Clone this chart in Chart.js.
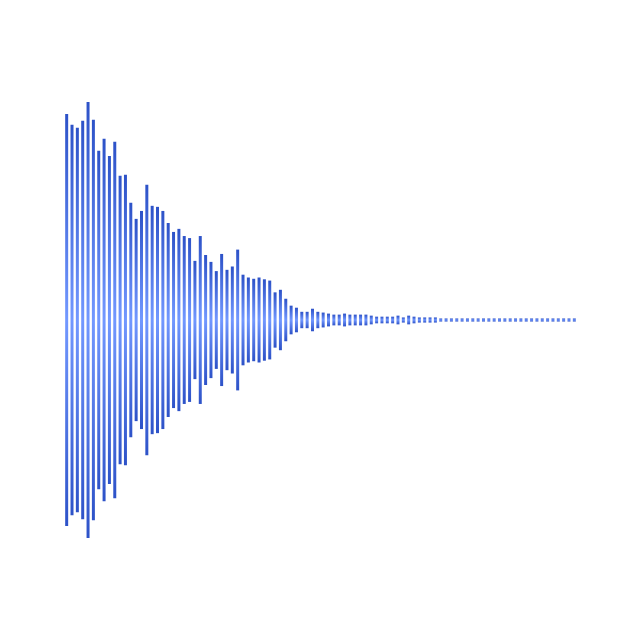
<!DOCTYPE html>
<html>
<head>
<meta charset="utf-8">
<script src="https://cdn.jsdelivr.net/npm/chart.js@4"></script>
<style>
  html, body { margin: 0; padding: 0; background: #ffffff; }
  #wrap { width: 640px; height: 640px; }
</style>
</head>
<body>
<div id="wrap"><canvas id="waveChart" width="640" height="640"></canvas></div>
<script>
// amplitude of each sample (bars are mirrored around zero)
const amplitudes = [
    0.805, 0.763, 0.751, 0.778, 0.852, 0.782, 0.661, 0.708, 0.641, 0.696,
    0.563, 0.567, 0.458, 0.395, 0.426, 0.528, 0.446, 0.442, 0.426, 0.379,
    0.344, 0.356, 0.328, 0.320, 0.231, 0.328, 0.254, 0.227, 0.191, 0.258,
    0.196, 0.209, 0.275, 0.177, 0.166, 0.161, 0.166, 0.159, 0.154, 0.108,
    0.118, 0.083, 0.056, 0.048, 0.032, 0.032, 0.044, 0.032, 0.029, 0.025,
    0.021, 0.021, 0.025, 0.021, 0.021, 0.021, 0.021, 0.017, 0.013, 0.013,
    0.013, 0.013, 0.017, 0.010, 0.017, 0.013, 0.010, 0.010, 0.010, 0.010,
    0.006, 0.006, 0.006, 0.006, 0.006, 0.006, 0.006, 0.006, 0.006, 0.006,
    0.006, 0.006, 0.006, 0.006, 0.006, 0.006, 0.006, 0.006, 0.006, 0.006,
    0.006, 0.006, 0.006, 0.006, 0.006, 0.006
];
const labels = amplitudes.map((_, i) => i + 1);

document.addEventListener('DOMContentLoaded', function () {
    const canvas = document.getElementById('waveChart');

    // each bar gets its own vertical gradient: dark at the tips, light in the middle
    function barGradient(context) {
        const chart = context.chart;
        if (!chart.chartArea || !context.raw) {
            return 'rgb(47, 86, 204)';
        }
        const y = chart.scales.y;
        const top = y.getPixelForValue(context.raw[1]);
        const bottom = y.getPixelForValue(context.raw[0]);
        if (!isFinite(top) || !isFinite(bottom) || top === bottom) {
            return 'rgb(47, 86, 204)';
        }
        const g = chart.ctx.createLinearGradient(0, top, 0, bottom);
        g.addColorStop(0, 'rgb(45, 82, 200)');
        g.addColorStop(0.5, 'rgb(114, 152, 255)');
        g.addColorStop(1, 'rgb(45, 82, 200)');
        return g;
    }

    new Chart(canvas, {
        type: 'bar',
        data: {
            labels: labels,
            datasets: [{
                data: amplitudes.map(a => [-a, a]),
                backgroundColor: barGradient,
                borderWidth: 0,
                barPercentage: 0.56,
                categoryPercentage: 1
            }]
        },
        options: {
            responsive: false,
            animation: false,
            layout: {
                padding: { left: 64, right: 63, top: 64, bottom: 64 }
            },
            plugins: {
                legend: { display: false },
                tooltip: { enabled: false }
            },
            scales: {
                x: { display: false },
                y: { display: false, min: -1, max: 1 }
            }
        }
    });
});
</script>
</body>
</html>
